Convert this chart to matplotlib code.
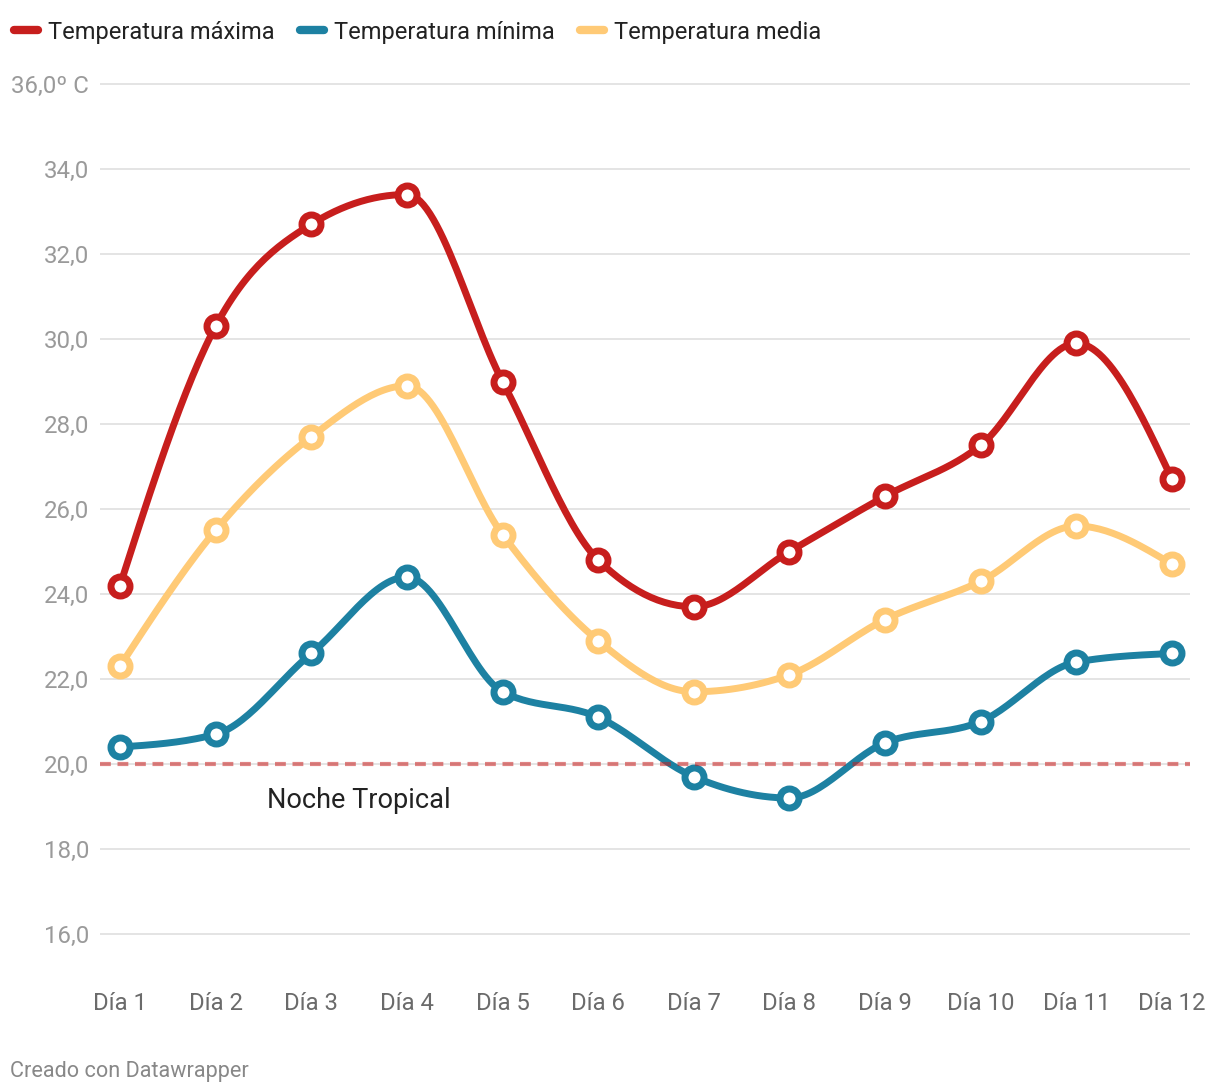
import numpy as np
import matplotlib
matplotlib.use("Agg")
import matplotlib.pyplot as plt
from matplotlib.lines import Line2D

plt.rcParams["font.family"] = ["Roboto", "DejaVu Sans"]

dias = ["Día %d" % i for i in range(1, 13)]
t_max = [24.2, 30.3, 32.7, 33.4, 29.0, 24.8, 23.7, 25.0, 26.3, 27.5, 29.9, 26.7]
t_min = [20.4, 20.7, 22.6, 24.4, 21.7, 21.1, 19.7, 19.2, 20.5, 21.0, 22.4, 22.6]
t_med = [22.3, 25.5, 27.7, 28.9, 25.4, 22.9, 21.7, 22.1, 23.4, 24.3, 25.6, 24.7]
yticks = [16, 18, 20, 22, 24, 26, 28, 30, 32, 34, 36]
ytick_labels = ["16,0", "18,0", "20,0", "22,0", "24,0", "26,0", "28,0", "30,0", "32,0", "34,0", "36,0º C"]
umbral = 20.0

RED, BLUE, YELLOW = "#c71e1d", "#1d81a2", "#ffca76"


def monotone(x, y, n=30):
    # d3 curveMonotoneX-style smoothing between the data points
    x = np.asarray(x, float); y = np.asarray(y, float)
    h = np.diff(x); s = np.diff(y) / h
    t = np.zeros_like(y)
    for i in range(1, len(y) - 1):
        p = (s[i - 1] * h[i] + s[i] * h[i - 1]) / (h[i - 1] + h[i])
        t[i] = (np.sign(s[i - 1]) + np.sign(s[i])) * min(abs(s[i - 1]), abs(s[i]), 0.5 * abs(p))
    t[0] = (3 * s[0] - t[1]) / 2
    t[-1] = (3 * s[-1] - t[-2]) / 2
    xs, ys = [], []
    for i in range(len(h)):
        u = np.linspace(0, 1, n)
        h00 = 2 * u**3 - 3 * u**2 + 1; h10 = u**3 - 2 * u**2 + u
        h01 = -2 * u**3 + 3 * u**2; h11 = u**3 - u**2
        xs.append(x[i] + u * h[i])
        ys.append(h00 * y[i] + h10 * h[i] * t[i] + h01 * y[i + 1] + h11 * h[i] * t[i + 1])
    return np.concatenate(xs), np.concatenate(ys)


W, H = 1220, 1092
fig = plt.figure(figsize=(W / 100, H / 100), dpi=100)
# axes placed in pixel terms: x 100..1190, y 70..970
ax = fig.add_axes([100 / W, (H - 970) / H, 1090 / W, 900 / H])
ax.set_xlim(-20 / 95.64, 11 + 18 / 95.64)
ax.set_ylim(16 - 36 / 42.5, 36 + 14 / 42.5)
for sp in ax.spines.values():
    sp.set_visible(False)

ax.set_yticks(yticks)
ax.set_yticklabels(ytick_labels, color="#9a9a9a", fontsize=17.3)
ax.tick_params(axis="y", length=0, pad=8)
ax.set_xticks(range(len(dias)))
ax.set_xticklabels(dias, color="#6b6b6b", fontsize=17.2)
ax.tick_params(axis="x", length=0, pad=15.5)
ax.grid(axis="y", color="#e2e2e2", lw=1.3)
ax.set_axisbelow(True)

# tropical-night threshold, drawn semi-transparent over the lines
ax.axhline(umbral, color=RED, alpha=0.55, lw=3, dashes=(2.6, 1.6), zorder=5)
ax.text(2.5, umbral - 0.85, "Noche Tropical", fontsize=19.5, color="#222222", ha="center", va="center")

xi = np.arange(len(dias))
for vals, c in [(t_med, YELLOW), (t_min, BLUE), (t_max, RED)]:
    sx, sy = monotone(xi, vals)
    ax.plot(sx, sy, color=c, lw=5, solid_capstyle="round", zorder=3)
    ax.plot(xi, vals, "o", ms=13.7, mew=5, mfc="white", mec=c, zorder=4, clip_on=False)

# legend drawn by hand at the top
for x0, c, lab in [(10, RED, "Temperatura máxima"), (296, BLUE, "Temperatura mínima"), (576, YELLOW, "Temperatura media")]:
    fig.add_artist(Line2D([(x0 + 4) / W, (x0 + 28) / W], [1 - 30 / H] * 2, color=c, lw=6,
                          solid_capstyle="round", transform=fig.transFigure))
    fig.text((x0 + 38) / W, 1 - 30 / H, lab, fontsize=17, color="#222222", va="center_baseline")

fig.text(10 / W, 1 - 1069 / H, "Creado con Datawrapper", fontsize=15.6, color="#888888", va="center_baseline")

fig.savefig("out.png", dpi=100)
